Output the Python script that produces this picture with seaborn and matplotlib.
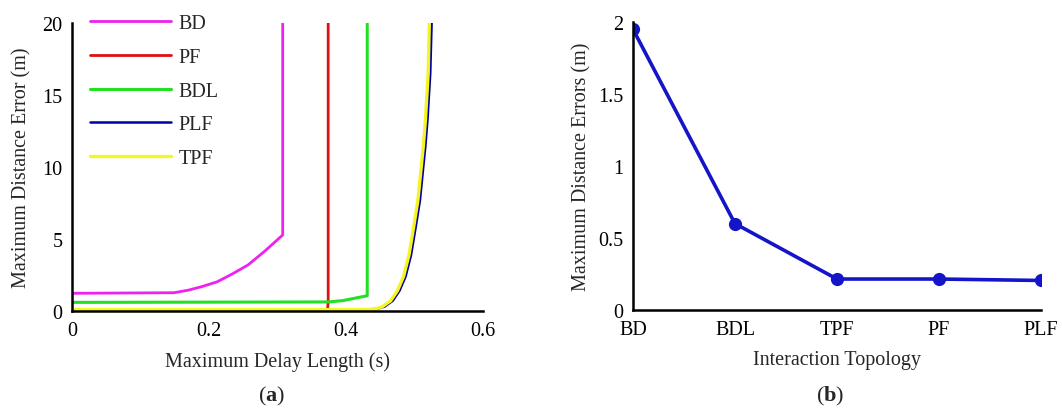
import numpy as np
import pandas as pd
import seaborn as sns
import matplotlib.pyplot as plt

# ---- data (a): max distance error vs max delay length ----
bd_x = [0.0, 0.149, 0.17, 0.19, 0.212, 0.235, 0.257, 0.28, 0.3076, 0.3076]
bd_y = [1.23, 1.27, 1.45, 1.7, 2.03, 2.6, 3.2, 4.1, 5.28, 20.0]

pf_x = [0.0, 0.373, 0.374, 0.374]
pf_y = [0.1, 0.1, 0.6, 20.0]

bdl_x = [0.0, 0.374, 0.395, 0.431, 0.431]
bdl_y = [0.6, 0.63, 0.72, 1.06, 20.0]

plf_x = [0.0, 0.42, 0.437, 0.447, 0.456, 0.468, 0.478, 0.487, 0.495, 0.502,
         0.508, 0.512, 0.516, 0.519, 0.523, 0.525]
plf_y = [0.1, 0.1, 0.11, 0.18, 0.3, 0.7, 1.4, 2.4, 3.9, 5.9,
         7.7, 9.6, 11.5, 13.3, 16.5, 20.0]

tpf_x = [0.0, 0.42, 0.435, 0.445, 0.453, 0.465, 0.475, 0.484, 0.492, 0.499,
         0.505, 0.509, 0.513, 0.516, 0.520, 0.5216]
tpf_y = [0.1, 0.1, 0.11, 0.18, 0.3, 0.7, 1.4, 2.4, 3.9, 5.9,
         7.7, 9.6, 11.5, 13.3, 16.5, 20.0]

# ---- data (b): max distance errors per topology ----
topologies = ["BD", "BDL", "TPF", "PF", "PLF"]
max_errors = [1.95, 0.6, 0.215, 0.215, 0.205]

sns.set_style("white")
plt.rcParams["font.family"] = ["Liberation Serif", "DejaVu Serif"]
plt.rcParams["mathtext.fontset"] = "custom"
plt.rcParams["mathtext.rm"] = "Liberation Serif"
plt.rcParams["mathtext.bf"] = "Liberation Serif:bold"

FS = 14.5

fig = plt.figure(figsize=(10.62, 4.10), dpi=100)
ax1 = fig.add_axes([0.0678, 0.239, 0.387, 0.7024])
ax2 = fig.add_axes([0.596, 0.2415, 0.3842, 0.7024])

series = [
    ("BD", bd_x, bd_y, "#ee22ee", 2.0),
    ("PF", pf_x, pf_y, "#dd1111", 2.0),
    ("BDL", bdl_x, bdl_y, "#22e022", 2.2),
    ("PLF", plf_x, plf_y, "#0000aa", 1.8),
    ("TPF", tpf_x, tpf_y, "#f5f522", 2.4),
]
for name, xs, ys, col, lw in series:
    sns.lineplot(x=xs, y=ys, sort=False, estimator=None, color=col,
                 linewidth=lw, label=name, ax=ax1)

ax1.set_xlim(0, 0.6)
ax1.set_ylim(0, 20)
ax1.set_xticks([0, 0.2, 0.4, 0.6])
ax1.set_xticklabels(["0", "0.2", "0.4", "0.6"])
ax1.set_yticks([0, 5, 10, 15, 20])
ax1.set_xlabel("Maximum Delay Length (s)", fontsize=FS, labelpad=8)
ax1.set_ylabel("Maximum Distance Error (m)", fontsize=FS, labelpad=8)
ax1.legend(loc="upper left", frameon=False, fontsize=FS, handlelength=4.0,
           handletextpad=0.4, borderpad=0.0, borderaxespad=0.0,
           bbox_to_anchor=(0.044, 1.03), labelspacing=0.72)

sns.lineplot(x=topologies, y=max_errors, sort=False, color="#1414c8",
             linewidth=2.6, marker="o", markersize=9.5, markeredgewidth=0,
             ax=ax2)
ax2.set_xlim(0, 4)
ax2.set_ylim(0, 2)
ax2.set_yticks([0, 0.5, 1, 1.5, 2])
ax2.set_yticklabels(["0", "0.5", "1", "1.5", "2"])
ax2.set_xlabel("Interaction Topology", fontsize=FS, labelpad=8)
ax2.set_ylabel("Maximum Distance Errors (m)", fontsize=FS, labelpad=5)

for ax in (ax1, ax2):
    for s in ("top", "right"):
        ax.spines[s].set_visible(False)
    for s in ("left", "bottom"):
        ax.spines[s].set_linewidth(1.8)
        ax.spines[s].set_color("black")
    ax.tick_params(direction="in", length=6, width=1.8, labelsize=FS, pad=7,
                   colors="black")

fig.text(0.256, 0.034, r"($\mathbf{a}$)", ha="center", va="center", fontsize=16)
fig.text(0.782, 0.034, r"($\mathbf{b}$)", ha="center", va="center", fontsize=16)

fig.savefig("out.png", dpi=100)
